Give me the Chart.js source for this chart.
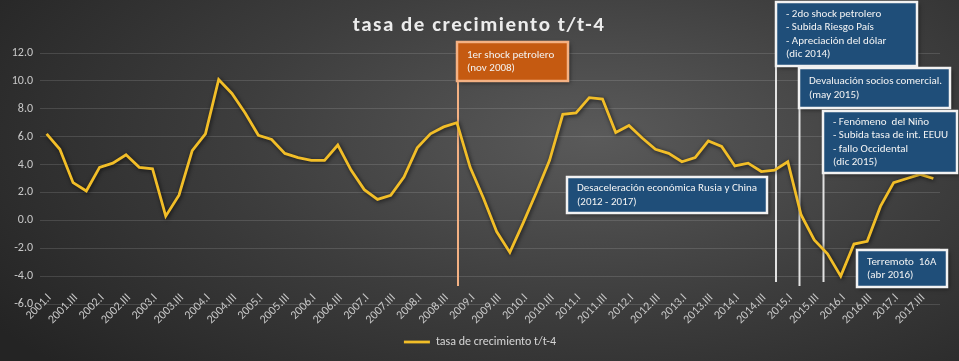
<!DOCTYPE html>
<html>
<head>
<meta charset="utf-8">
<script src="https://cdn.jsdelivr.net/npm/chart.js@4.4.1/dist/chart.umd.min.js"></script>
<style>
  html, body { margin: 0; padding: 0; }
  body {
    width: 959px; height: 361px; overflow: hidden;
    background: radial-gradient(ellipse 75% 95% at 62% 38%, #5a5a5a 0%, #3d3d3d 50%, #242424 100%);
  }
  #chart { display: block; }
</style>
</head>
<body>
<canvas id="chart" width="959" height="361"></canvas>
<script>
// --- DATA ---
const chartTitle = 'tasa de crecimiento t/t-4';
const seriesName = 'tasa de crecimiento t/t-4';
const years = [2001, 2002, 2003, 2004, 2005, 2006, 2007, 2008, 2009,
               2010, 2011, 2012, 2013, 2014, 2015, 2016, 2017];
const quarters = ['I', 'II', 'III', 'IV'];
const categories = years.flatMap(y => quarters.map(q => y + '.' + q));

// growth rate, one value per quarter (2001.I .. 2017.IV)
const growth = [
  6.2, 5.1, 2.7, 2.1,   // 2001
  3.8, 4.1, 4.7, 3.8,   // 2002
  3.7, 0.3, 1.8, 5.0,   // 2003
  6.2, 10.1, 9.1, 7.7,  // 2004
  6.1, 5.8, 4.8, 4.5,   // 2005
  4.3, 4.3, 5.4, 3.6,   // 2006
  2.2, 1.5, 1.8, 3.1,   // 2007
  5.2, 6.2, 6.7, 7.0,   // 2008
  3.8, 1.6, -0.8, -2.3, // 2009
  -0.2, 2.0, 4.3, 7.6,  // 2010
  7.7, 8.8, 8.7, 6.3,   // 2011
  6.8, 5.9, 5.1, 4.8,   // 2012
  4.2, 4.5, 5.7, 5.3,   // 2013
  3.9, 4.1, 3.5, 3.6,   // 2014
  4.2, 0.4, -1.4, -2.4, // 2015
  -4.0, -1.7, -1.5, 1.0,// 2016
  2.7, 3.0, 3.3, 3.0    // 2017
];

const yMin = -6;
const yMax = 12;
const yStep = 2;

// callout texts
const noteShock1 = ['1er shock petrolero', '(nov 2008)'];
const noteShock2 = ['- 2do shock petrolero', '- Subida Riesgo País', '- Apreciación del dólar', '(dic 2014)'];
const noteDevaluacion = ['Devaluación socios comercial.', '(may 2015)'];
const noteNino = ['- Fenómeno  del Niño', '- Subida tasa de int. EEUU', '- fallo Occidental', '(dic 2015)'];
const noteRusiaChina = ['Desaceleración económica Rusia y China', '(2012 - 2017)'];
const noteTerremoto = ['Terremoto  16A', '(abr 2016)'];

// --- STYLE ---
const FONT = 'Carlito, Lato, "Open Sans", sans-serif';
const lineColor = '#f2be28';
const labelColor = '#c8c8c8';

// --- PLUGINS ---
const titlePlugin = {
  id: 'spacedTitle',
  afterDraw(chart) {
    const ctx = chart.ctx;
    ctx.save();
    ctx.font = 'bold 21px ' + FONT;
    ctx.fillStyle = '#ececec';
    ctx.textAlign = 'center';
    ctx.textBaseline = 'alphabetic';
    ctx.letterSpacing = '1.5px';
    ctx.fillText(chartTitle, 479, 31);
    ctx.restore();
  }
};

const glowPlugin = {
  id: 'lineGlow',
  beforeDatasetDraw(chart) {
    const ctx = chart.ctx;
    ctx.save();
    ctx.shadowColor = 'rgba(0,0,0,0.7)';
    ctx.shadowBlur = 4;
    ctx.shadowOffsetX = 1;
    ctx.shadowOffsetY = 1;
  },
  afterDatasetDraw(chart) {
    chart.ctx.restore();
  }
};

// nudge the legend so it sits centred on the whole picture like the original
const legendShift = {
  id: 'legendShift',
  afterLayout(chart) {
    const lg = chart.legend;
    if (!lg) return;
    lg.left += 10; lg.right += 10;
    lg.top -= 3; lg.bottom -= 3;
  }
};

// vertical marker lines and callout boxes
const markerLines = [
  { x: 458, top: 81, bottom: 286, color: '#f4b183' },
  { x: 776, top: 66, bottom: 282, color: '#e2e2e2' },
  { x: 799.5, top: 108, bottom: 286, color: '#e2e2e2' },
  { x: 823.5, top: 173, bottom: 282, color: '#e2e2e2' }
];

const calloutBoxes = [
  { x: 457, y: 42, w: 111, h: 39, fill: '#c55a11', stroke: '#f4b183', lines: noteShock1 },
  { x: 776, y: 2, w: 141, h: 64, fill: '#1f4e79', stroke: '#f2f2f2', lines: noteShock2 },
  { x: 799, y: 68, w: 151, h: 40, fill: '#1f4e79', stroke: '#f2f2f2', lines: noteDevaluacion },
  { x: 823, y: 111, w: 134, h: 62, fill: '#1f4e79', stroke: '#f2f2f2', lines: noteNino },
  { x: 567, y: 177, w: 200, h: 36, fill: '#1f4e79', stroke: '#f2f2f2', lines: noteRusiaChina },
  { x: 857, y: 250, w: 90, h: 37, fill: '#1f4e79', stroke: '#f2f2f2', lines: noteTerremoto }
];

const calloutPlugin = {
  id: 'callouts',
  beforeDatasetsDraw(chart) {
    const ctx = chart.ctx;
    ctx.save();
    ctx.lineWidth = 2;
    markerLines.forEach(m => {
      ctx.strokeStyle = m.color;
      ctx.beginPath();
      ctx.moveTo(m.x, m.top);
      ctx.lineTo(m.x, m.bottom);
      ctx.stroke();
    });
    ctx.restore();
  },
  afterDatasetsDraw(chart) {
    const ctx = chart.ctx;
    calloutBoxes.forEach(b => {
      ctx.save();
      ctx.shadowColor = 'rgba(0,0,0,0.5)';
      ctx.shadowBlur = 4;
      ctx.shadowOffsetX = 2;
      ctx.shadowOffsetY = 2;
      ctx.fillStyle = b.fill;
      ctx.fillRect(b.x, b.y, b.w, b.h);
      ctx.restore();

      ctx.save();
      ctx.lineWidth = 2.5;
      ctx.strokeStyle = b.stroke;
      ctx.strokeRect(b.x, b.y, b.w, b.h);
      ctx.font = '11px ' + FONT;
      ctx.fillStyle = '#f4f4f4';
      ctx.textBaseline = 'middle';
      const lh = 13.5;
      const startY = b.y + b.h / 2 - (b.lines.length - 1) * lh / 2;
      b.lines.forEach((t, i) => ctx.fillText(t, b.x + 10, startY + i * lh));
      ctx.restore();
    });
  }
};

// --- CHART ---
new Chart(document.getElementById('chart'), {
  type: 'line',
  data: {
    labels: categories,
    datasets: [{
      label: seriesName,
      data: growth,
      borderColor: lineColor,
      backgroundColor: lineColor,
      borderWidth: 2.8,
      pointRadius: 0,
      tension: 0,
      fill: false
    }]
  },
  options: {
    responsive: false,
    animation: false,
    devicePixelRatio: 1,
    layout: { padding: { top: 53, left: 0, right: 19, bottom: 0 } },
    scales: {
      x: {
        offset: true,
        grid: { display: false },
        border: { display: false },
        ticks: {
          autoSkip: false,
          maxRotation: 45,
          minRotation: 45,
          padding: -21,
          labelOffset: 3,
          color: labelColor,
          font: { family: FONT, size: 12 },
          callback: (v, i) => (i % 2 === 0 ? categories[i] : '')
        },
        afterFit: s => { s.height = 23; },
        // labels sit partly inside the plot, like the original, so don't clip them to the axis box
        afterUpdate: s => { s._computeLabelArea = () => undefined; }
      },
      y: {
        min: yMin,
        max: yMax,
        grid: { color: 'rgba(255,255,255,0.13)', drawTicks: false },
        border: { display: false },
        ticks: {
          stepSize: yStep,
          padding: 7,
          color: labelColor,
          font: { family: FONT, size: 12 },
          callback: v => v.toFixed(1)
        },
        afterFit: s => { s.width = 40; }
      }
    },
    plugins: {
      title: { display: false },
      tooltip: { enabled: false },
      legend: {
        position: 'bottom',
        labels: {
          usePointStyle: true,
          pointStyle: 'line',
          pointStyleWidth: 26,
          padding: 12,
          color: '#d6d6d6',
          font: { family: FONT, size: 12 }
        }
      }
    }
  },
  plugins: [glowPlugin, legendShift, calloutPlugin, titlePlugin]
});
</script>
</body>
</html>
